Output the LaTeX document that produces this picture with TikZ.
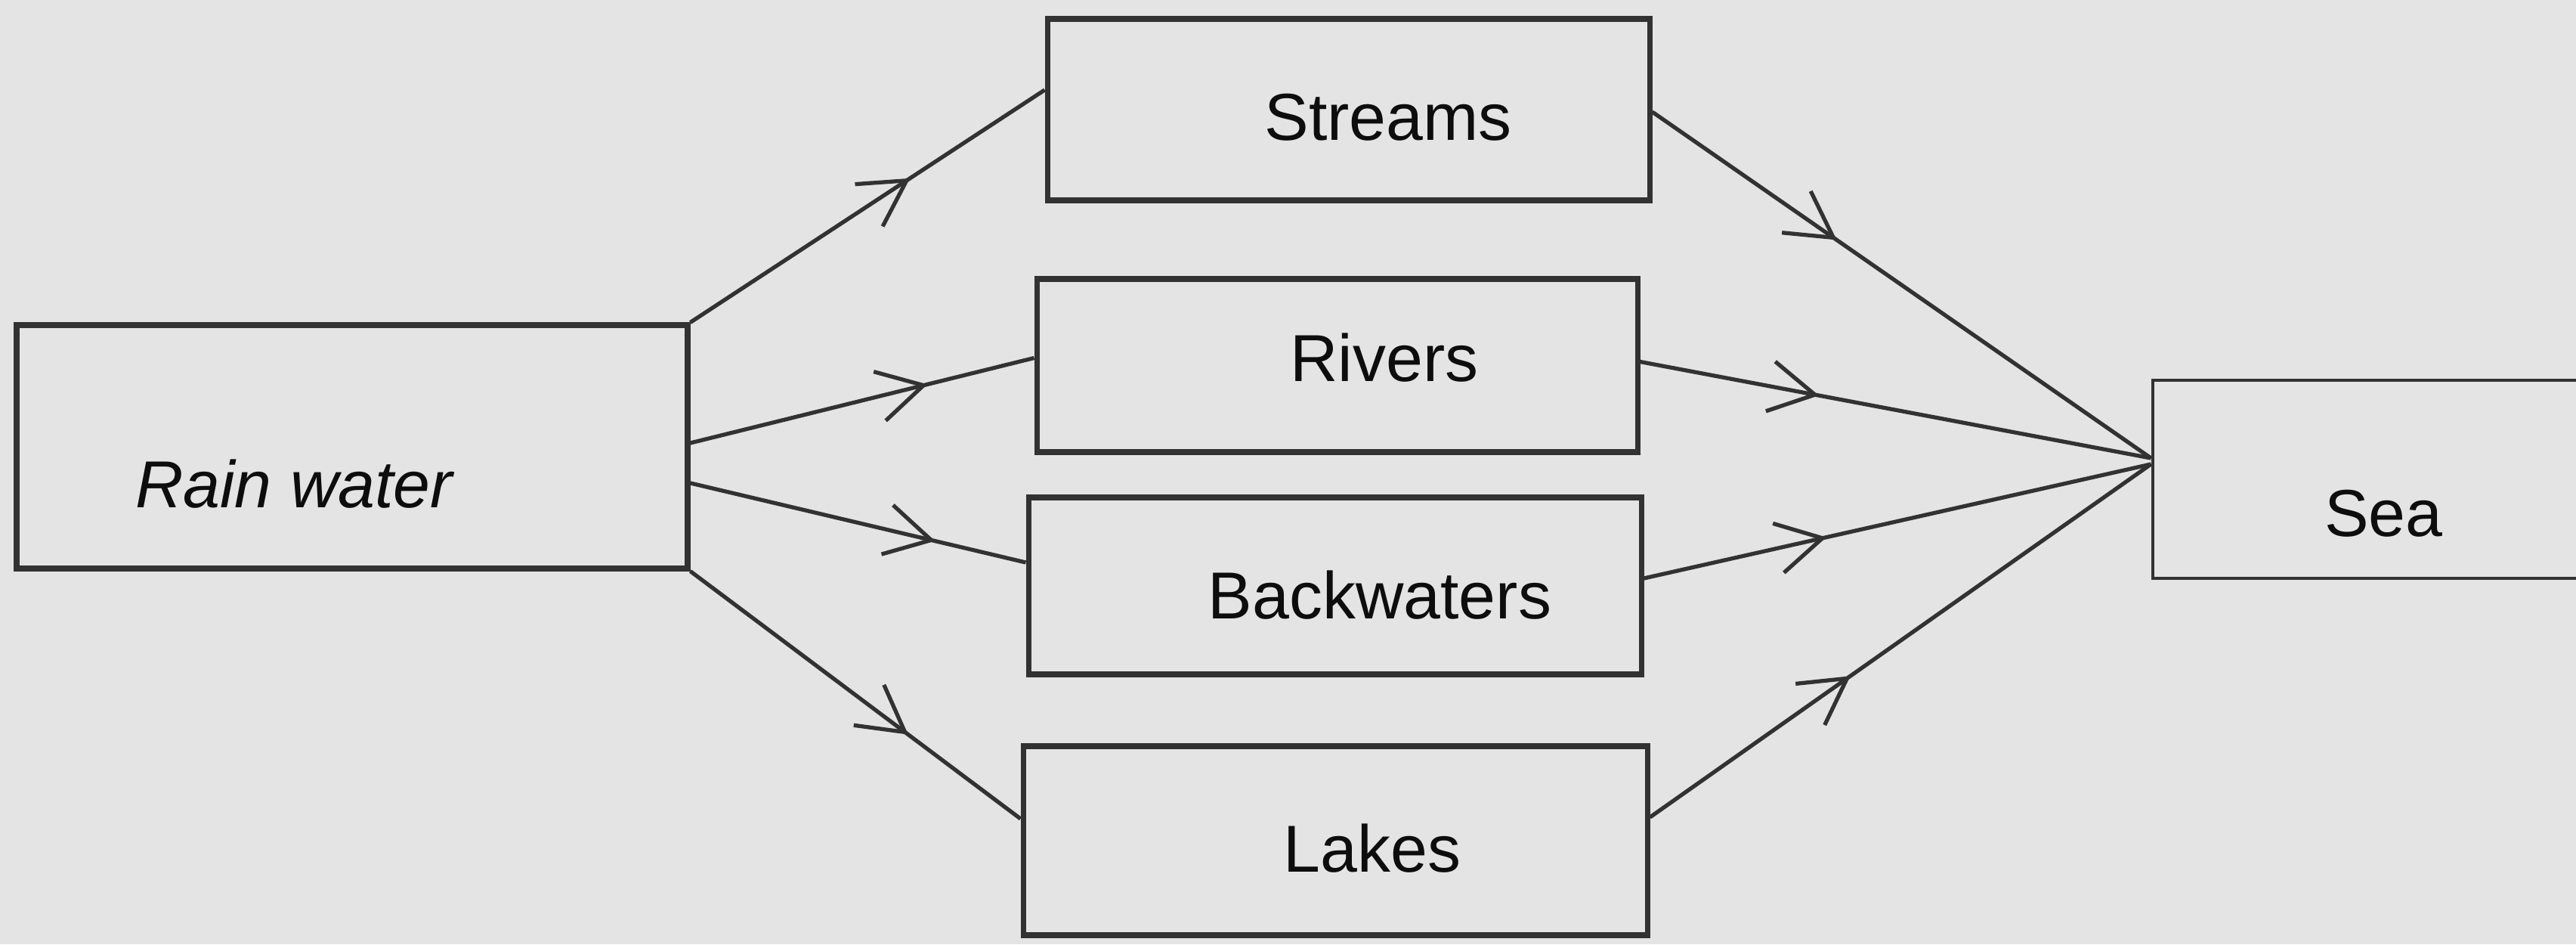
\documentclass[tikz,border=0pt]{standalone}
\usepackage{fontspec}
\setmainfont{Liberation Sans}
\usetikzlibrary{arrows.meta,decorations.markings}
\definecolor{paper}{RGB}{228,228,228}
\definecolor{ink}{RGB}{50,50,50}

\begin{document}
\begin{tikzpicture}[box/.style={draw=ink,line width=2pt,inner sep=0pt},
txt/.style={font=\fontsize{25}{30}\selectfont,text=black!95},
flow/.style={draw=ink,line width=1.5pt},
midarrow/.style={postaction={decorate},decoration={markings,mark=at position #1 with {\arrow{Straight Barb[length=17pt,width=19pt]}}}}]
\fill[paper] (0,0) rectangle (34.09,12.49);
\useasboundingbox (0,0) rectangle (34.09,12.49);

\draw (4.66,6.58) node[box,minimum width=8.88cm,minimum height=3.22cm] (rain) {} +(-0.77,-0.49) node[txt] (raintxt) {\itshape Rain water};
\draw (17.845,11.04) node[box,minimum width=7.97cm,minimum height=2.40cm] (streams) {} +(0.525,-0.1) node[txt] (streamstxt) {Streams};
\draw (17.695,7.655) node[box,minimum width=7.95cm,minimum height=2.29cm] (rivers) {} +(0.625,0.1) node[txt] (riverstxt) {Rivers};
\draw (17.665,4.74) node[box,minimum width=8.11cm,minimum height=2.34cm] (backwaters) {} +(0.595,-0.12) node[txt] (backwaterstxt) {Backwaters};
\draw (17.67,1.37) node[box,minimum width=8.26cm,minimum height=2.50cm] (lakes) {} +(0.49,-0.1) node[txt] (lakestxt) {Lakes};
\draw (31.545,6.15) node[box,line width=1.4pt,minimum width=6.11cm,minimum height=2.62cm] (sea) {} +(0,-0.45) node[txt] (seatxt) {Sea};

\draw[flow,midarrow=.62] (rain.north east)--([yshift=.26cm]streams.west);
\draw[flow,midarrow=.69] ([yshift=.05cm]rain.east)--([yshift=.1cm]rivers.west);
\draw[flow,midarrow=.73] ([yshift=-.48cm]rain.east)--([yshift=.31cm]backwaters.west);
\draw[flow,midarrow=.66] (rain.south east)--([yshift=.29cm]lakes.west);

\draw[flow,midarrow=.37] ([yshift=-.03cm]streams.east)--([yshift=.28cm]sea.west);
\draw[flow,midarrow=.35] ([yshift=.05cm]rivers.east)--([yshift=.28cm]sea.west);
\draw[flow,midarrow=.36] ([yshift=.1cm]backwaters.east)--([yshift=.2cm]sea.west);
\draw[flow,midarrow=.40] ([yshift=.31cm]lakes.east)--([yshift=.2cm]sea.west);
\end{tikzpicture}
\end{document}
